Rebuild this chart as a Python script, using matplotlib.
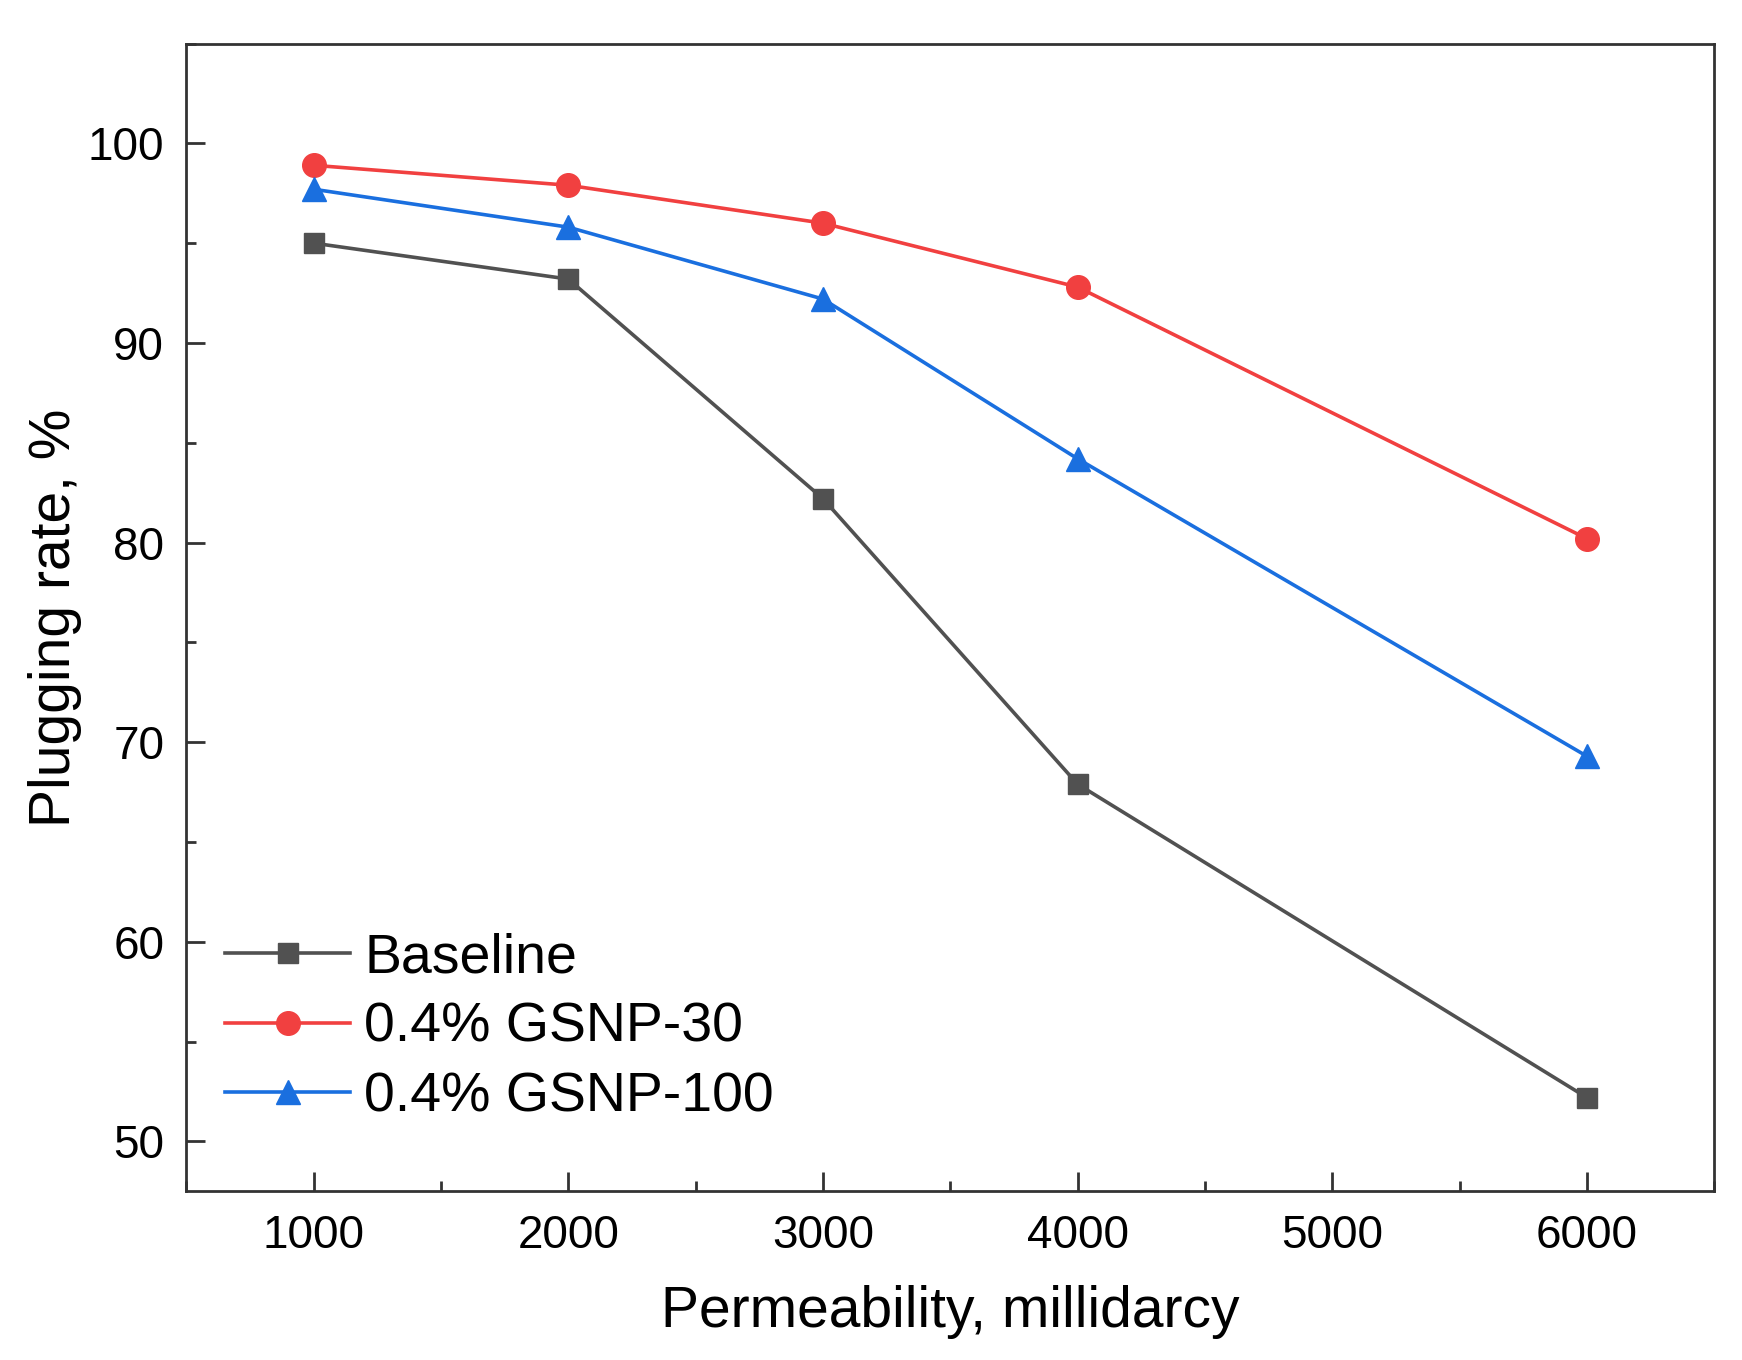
import matplotlib.pyplot as plt
from matplotlib.ticker import MultipleLocator

plt.rcParams['font.family'] = ['Liberation Sans', 'DejaVu Sans']

# data
permeability = [1000, 2000, 3000, 4000, 6000]
baseline = [95.0, 93.2, 82.2, 67.9, 52.2]
gsnp_30 = [98.9, 97.9, 96.0, 92.8, 80.2]
gsnp_100 = [97.7, 95.8, 92.2, 84.2, 69.3]
labels = ['Baseline', '0.4% GSNP-30', '0.4% GSNP-100']

fig = plt.figure(figsize=(17.42, 13.6), dpi=100)
ax = fig.add_axes([0.107, 0.124, 0.877, 0.844])

ax.plot(permeability, baseline, color='#515151', marker='s', markersize=15, lw=2.6, label=labels[0])
ax.plot(permeability, gsnp_30, color='#F14040', marker='o', markersize=17, lw=2.6, label=labels[1])
ax.plot(permeability, gsnp_100, color='#1A6FDF', marker='^', markersize=17, lw=2.6, label=labels[2])

ax.set_xlim(500, 6500)
ax.set_ylim(47.5, 105)
ax.xaxis.set_major_locator(MultipleLocator(1000))
ax.xaxis.set_minor_locator(MultipleLocator(500))
ax.yaxis.set_major_locator(MultipleLocator(10))
ax.yaxis.set_minor_locator(MultipleLocator(5))
ax.set_xticks([1000, 2000, 3000, 4000, 5000, 6000])

ax.tick_params(which='both', direction='in', top=False, right=False, labelsize=33, width=2, color='#333333')
ax.tick_params(which='major', length=14, pad=16)
ax.tick_params(which='minor', length=7)
for s in ax.spines.values():
    s.set_linewidth(2)
    s.set_color('#333333')

ax.set_xlabel('Permeability, millidarcy', fontsize=41, labelpad=20)
ax.set_ylabel('Plugging rate, %', fontsize=41, labelpad=4)

ax.legend(loc='lower left', bbox_to_anchor=(0.0, 0.025), frameon=False, fontsize=40,
          handlelength=2.25, handletextpad=0.25, labelspacing=0.32, borderaxespad=0.3)

plt.savefig('out.png', dpi=100)
